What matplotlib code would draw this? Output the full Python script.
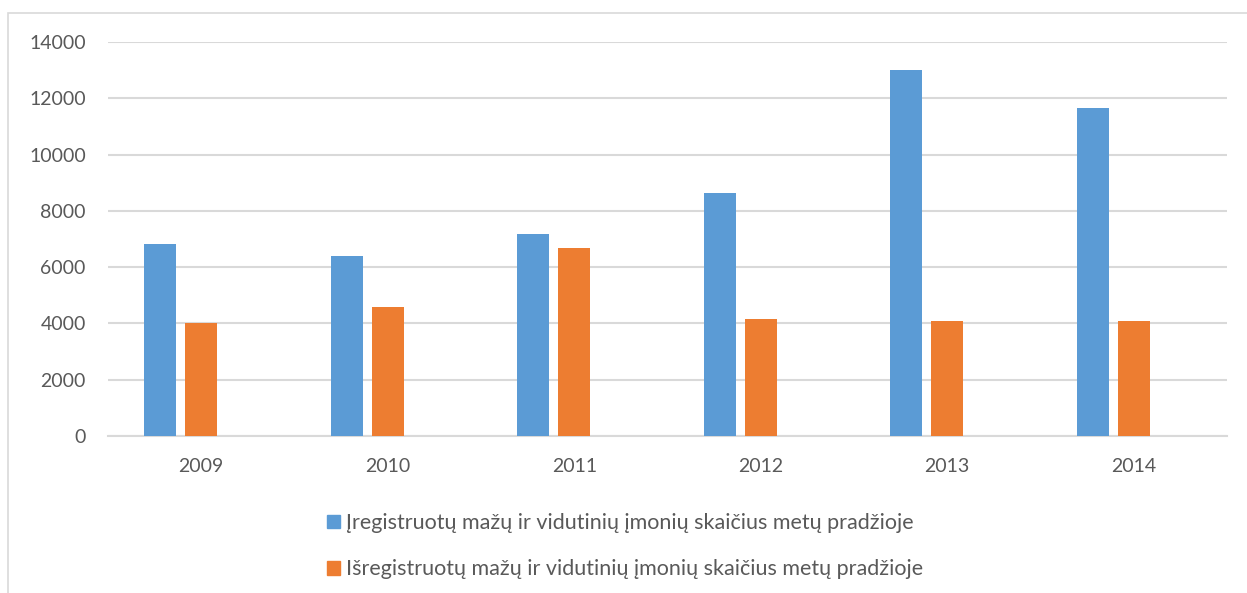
import matplotlib.pyplot as plt
from matplotlib.patches import Rectangle, Patch
import numpy as np

# Data
years = ["2009", "2010", "2011", "2012", "2013", "2014"]
registered = [6820, 6390, 7160, 8630, 13010, 11650]
deregistered = [4010, 4590, 6680, 4150, 4100, 4070]
labels = [
    "Įregistruotų mažų ir vidutinių įmonių skaičius metų pradžioje",
    "Išregistruotų mažų ir vidutinių įmonių skaičius metų pradžioje",
]

blue = "#5B9BD5"
orange = "#ED7D31"
grey_text = "#595959"

plt.rcParams['font.family'] = ['Lato', 'DejaVu Sans']

fig = plt.figure(figsize=(12.47, 5.93), dpi=100)
# outer chart border
fig.patches.append(Rectangle((8 / 1247, -0.05), 1.1, 1 - 13 / 593 + 0.05,
                             transform=fig.transFigure, fill=False,
                             edgecolor="#d9d9d9", lw=1.2))

ax = fig.add_axes([108 / 1247, 1 - 436 / 593, (1227 - 108) / 1247, (436 - 42) / 593])

x = np.arange(len(years))
w = 0.172
ax.bar(x - 0.22, registered, w, color=blue, zorder=3)
ax.bar(x, deregistered, w, color=orange, zorder=3)

ax.set_xlim(-0.5, len(years) - 0.5)
ax.set_ylim(0, 14000)
ax.set_yticks(range(0, 14001, 2000))
ax.set_xticks(x)
ax.set_xticklabels(years)
ax.yaxis.grid(True, color="#d9d9d9", lw=1.5, zorder=0)
ax.tick_params(axis="both", length=0, labelsize=14, colors=grey_text, pad=16)
for side in ["top", "right", "left"]:
    ax.spines[side].set_visible(False)
ax.spines["bottom"].set_color("#d9d9d9")
ax.spines["bottom"].set_linewidth(1.5)

handles = [Patch(color=blue), Patch(color=orange)]
fig.legend(handles, labels, loc="upper left", bbox_to_anchor=(327 / 1247, 1 - 513 / 593),
           frameon=False, fontsize=15.5, labelcolor=grey_text, handlelength=0.6,
           handleheight=0.6, handletextpad=0.28, labelspacing=1.22, borderpad=0,
           borderaxespad=0)

fig.savefig("out.png", dpi=100)
